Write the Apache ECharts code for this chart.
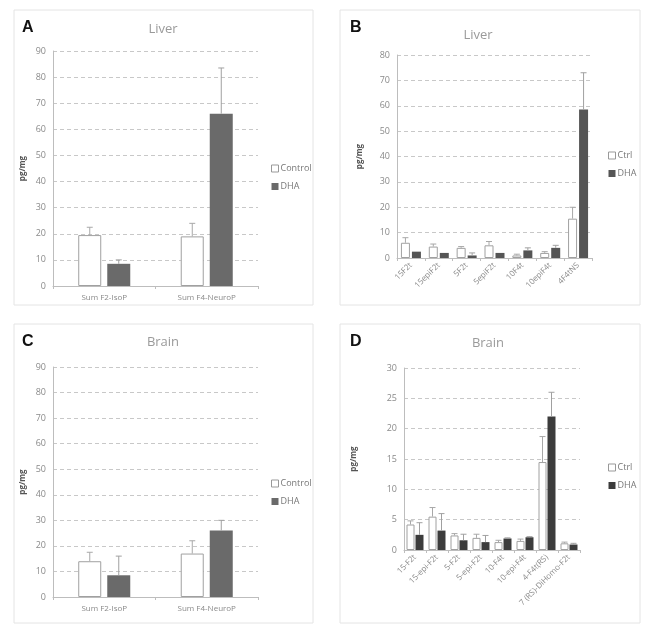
<!DOCTYPE html>
<html><head><meta charset="utf-8">
<script src="https://cdn.jsdelivr.net/npm/echarts@6/dist/echarts.min.js"></script>
<style>html,body{margin:0;padding:0;background:#fff}#c{width:658px;height:641px}</style>
</head><body><div id="c"></div>
<script>
// ---- data ----
const catA = ['Sum F2-IsoP', 'Sum F4-NeuroP'];
const ctrlA = [19.5, 19];
const ctrlA_sd = [3, 5];
const dhaA = [8.5, 66];
const dhaA_sd = [1.5, 17.5];

const catB = ['15F2t', '15epiF2t', '5F2t', '5epiF2t', '10F4t', '10epiF4t', '4F4tNS'];
const ctrlB = [6, 4.5, 4, 5, 1, 2, 15.5];
const ctrlB_sd = [2, 1, 0.5, 1.5, 0.5, 0.5, 4.5];
const dhaB = [2.5, 2, 1, 2, 3, 4, 58.5];
const dhaB_sd = [0, 0, 1, 0, 1, 1, 14.5];

const catC = ['Sum F2-IsoP', 'Sum F4-NeuroP'];
const ctrlC = [14, 17];
const ctrlC_sd = [3.5, 5];
const dhaC = [8.5, 26];
const dhaC_sd = [7.5, 4];

const catD = ['15-F2t', '15-epi-F2t', '5-F2t', '5-epi-F2t', '10-F4t', '10-epi-F4t', '4-F4t(RS)', '7 (RS)-DiHomo-F2t'];
const ctrlD = [4.2, 5.5, 2.4, 2.0, 1.3, 1.5, 14.5, 1.1];
const ctrlD_sd = [0.6, 1.5, 0.3, 0.6, 0.3, 0.3, 4.2, 0.2];
const dhaD = [2.5, 3.2, 1.6, 1.3, 1.9, 2.1, 22, 0.9];
const dhaD_sd = [2.0, 2.8, 1.0, 1.1, 0.1, 0.1, 4.0, 0.2];

// ---- layout ----
const panels = [
  {letter:'A', title:'Liver', cats:catA, c:ctrlA, cs:ctrlA_sd, d:dhaA, ds:dhaA_sd, ctrlName:'Control',
   grid:{left:53, top:51, width:205, height:235}, max:90, interval:10, bw:23, gap:6, dhaColor:'#6a6a6a',
   rotate:0, nameGap:26, legend:{left:266, top:159}, box:[14,10,299,295], letterPos:[22,20], titlePos:[163,23]},
  {letter:'B', title:'Liver', cats:catB, c:ctrlB, cs:ctrlB_sd, d:dhaB, ds:dhaB_sd, ctrlName:'Ctrl',
   grid:{left:397, top:55, width:195, height:203}, max:80, interval:10, bw:9, gap:2, dhaColor:'#555',
   rotate:45, nameGap:33, legend:{left:603, top:146}, box:[340,10,300,295], letterPos:[350,20], titlePos:[478,29]},
  {letter:'C', title:'Brain', cats:catC, c:ctrlC, cs:ctrlC_sd, d:dhaC, ds:dhaC_sd, ctrlName:'Control',
   grid:{left:53, top:367, width:205, height:230}, max:90, interval:10, bw:23, gap:6, dhaColor:'#6a6a6a',
   rotate:0, nameGap:26, legend:{left:266, top:474}, box:[14,324,299,299], letterPos:[22,334], titlePos:[163,336]},
  {letter:'D', title:'Brain', cats:catD, c:ctrlD, cs:ctrlD_sd, d:dhaD, ds:dhaD_sd, ctrlName:'Ctrl',
   grid:{left:404, top:368, width:176, height:182}, max:30, interval:5, bw:8, gap:1, dhaColor:'#3c3c3c',
   rotate:45, nameGap:46, legend:{left:603, top:458}, box:[340,324,300,299], letterPos:[350,334], titlePos:[488,337]}
];

const grids = [], xAxes = [], yAxes = [], series = [], legends = [], graphics = [];
const axisColor = '#bdbdbd', labelColor = '#8a8a8a';

function errSeries(p, i, vals, sds, side, color) {
  const data = vals.map((v, k) => [k, v, sds[k]]);
  return {
    type: 'custom', xAxisIndex: i, yAxisIndex: i, silent: true, z: 5,
    encode: {x: 0, y: 1},
    data: data,
    renderItem: function (params, api) {
      const sd = api.value(2);
      if (!(sd > 0)) return null;
      const b = api.coord([api.value(0), api.value(1)]);
      const t = api.coord([api.value(0), api.value(1) + sd]);
      const off = side * (p.bw + p.gap) / 2;
      const x = b[0] + off;
      const cap = 3;
      return {type: 'group', children: [
        {type: 'line', shape: {x1: x, y1: b[1], x2: x, y2: t[1]}, style: {stroke: color, lineWidth: 1}},
        {type: 'line', shape: {x1: x - cap, y1: t[1], x2: x + cap, y2: t[1]}, style: {stroke: color, lineWidth: 1}}
      ]};
    }
  };
}

panels.forEach((p, i) => {
  grids.push(Object.assign({containLabel: false}, p.grid));
  xAxes.push({
    type: 'category', gridIndex: i, data: p.cats,
    axisLine: {lineStyle: {color: axisColor}},
    axisTick: {show: true, length: 3, lineStyle: {color: axisColor}},
    axisLabel: {color: labelColor, fontSize: 8, rotate: p.rotate, margin: p.rotate ? 6 : 8, interval: 0,
      fontFamily: 'Open Sans'}
  });
  yAxes.push({
    type: 'value', gridIndex: i, min: 0, max: p.max, interval: p.interval,
    name: 'pg/mg', nameLocation: 'middle', nameRotate: 90, nameGap: p.nameGap,
    nameTextStyle: {color: '#555', fontSize: 8, fontWeight: 'bold', fontFamily: 'Open Sans'},
    axisLine: {show: true, lineStyle: {color: axisColor}},
    axisTick: {show: false},
    axisLabel: {color: labelColor, fontSize: 9, margin: 7, fontFamily: 'Open Sans'},
    splitLine: {show: true, lineStyle: {color: '#c8c8c8', type: [4, 3], width: 1}}
  });
  const bg = (p.gap / p.bw * 100).toFixed(1) + '%';
  series.push({
    type: 'bar', name: p.ctrlName, xAxisIndex: i, yAxisIndex: i, data: p.c,
    barWidth: p.bw, barGap: bg,
    itemStyle: {color: '#fff', borderColor: '#a0a0a0', borderWidth: 1}
  });
  series.push({
    type: 'bar', name: 'DHA', xAxisIndex: i, yAxisIndex: i, data: p.d,
    barWidth: p.bw, barGap: bg,
    itemStyle: {color: p.dhaColor}
  });
  series.push(errSeries(p, i, p.c, p.cs, -1, '#a8a8a8'));
  series.push(errSeries(p, i, p.d, p.ds, 1, '#a0a0a0'));
  legends.push({
    left: p.legend.left, top: p.legend.top, orient: 'vertical', itemGap: 9,
    itemWidth: 7, itemHeight: 7, selectedMode: false,
    textStyle: {color: '#777', fontSize: 9, fontFamily: 'Open Sans', padding: [0, 0, 0, -3]},
    data: [
      {name: p.ctrlName, icon: 'rect', itemStyle: {color: '#fff', borderColor: '#999', borderWidth: 1}},
      {name: 'DHA', icon: 'rect', itemStyle: {color: p.dhaColor}}
    ]
  });
  graphics.push({type: 'rect', shape: {x: p.box[0], y: p.box[1], width: p.box[2], height: p.box[3]},
    style: {fill: 'none', stroke: '#e4e4e4', lineWidth: 1}, z: -1, silent: true});
  graphics.push({type: 'text', x: p.letterPos[0], y: p.letterPos[1],
    style: {text: p.letter, fill: '#111', font: 'bold 16px "Liberation Sans", Arial, sans-serif'}});
  graphics.push({type: 'text', x: p.titlePos[0], y: p.titlePos[1],
    style: {text: p.title, fill: '#9a9a9a', font: '13px "Open Sans", sans-serif', textAlign: 'center'}});
});

const chart = echarts.init(document.getElementById('c'), null, {renderer: 'canvas'});
chart.setOption({
  animation: false,
  backgroundColor: '#fff',
  grid: grids, xAxis: xAxes, yAxis: yAxes, series: series, legend: legends,
  graphic: graphics
});
</script></body></html>
